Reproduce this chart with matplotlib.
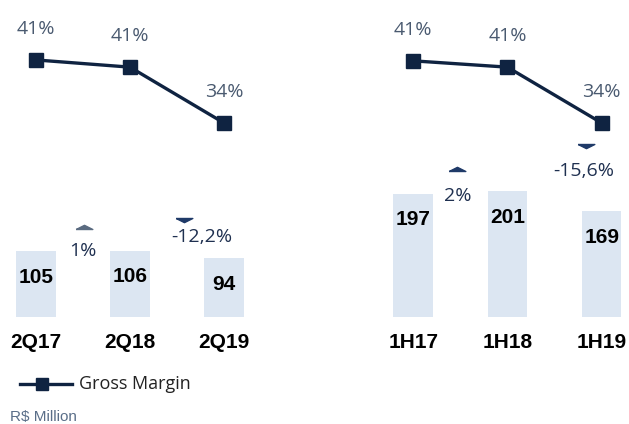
import matplotlib
matplotlib.use("Agg")
import matplotlib.pyplot as plt
from matplotlib.transforms import ScaledTranslation

# data
quarters = ["2Q17", "2Q18", "2Q19"]
quarter_profit = [105, 106, 94]
quarter_margin = [41.3, 40.5, 34.3]
quarter_margin_labels = ["41%", "41%", "34%"]
quarter_growth = ["1%", "-12,2%"]

halves = ["1H17", "1H18", "1H19"]
half_profit = [197, 201, 169]
half_margin = [41.2, 40.5, 34.3]
half_margin_labels = ["41%", "41%", "34%"]
half_growth = ["2%", "-15,6%"]

W, H = 629, 424
BAR = "#dce6f2"
LINE = "#0f2341"
PCT = "#4a5a70"
GROWTH = "#1f3050"
LIGHT_FONT = "Open Sans"
BOLD_FONT = "Liberation Sans"

# flat triangles like the slide arrows
TRI_UP = [(-1, 0), (1, 0), (0, 0.5), (-1, 0)]
TRI_DOWN = [(-1, 0), (1, 0), (0, -0.5), (-1, 0)]

fig = plt.figure(figsize=(W / 100, H / 100), dpi=100)


def panel(rect, xlim, cats, profit, margin, margin_labels, growth, growth_style):
    ax = fig.add_axes(rect)
    x = range(len(cats))
    ax.bar(x, profit, width=0.42, color=BAR, zorder=1)
    ax.set_xlim(*xlim)
    ax.set_ylim(0, 507)
    ax.axis("off")

    for i, v in enumerate(profit):
        ax.annotate(str(v), (i, v), xytext=(0, -26), textcoords="offset pixels",
                    ha="center", va="center", fontsize=15, fontweight="bold",
                    family=BOLD_FONT, color="black")
        ax.annotate(cats[i], (i, 0), xytext=(0, -26), textcoords="offset pixels",
                    ha="center", va="center", fontsize=15, fontweight="bold",
                    family=BOLD_FONT, color="black")

    # growth annotations between bars
    for k, txt in enumerate(growth):
        ref = max(profit[k], profit[k + 1])
        (tx, ty), (mx, my), mk, mc = growth_style[k]
        ax.annotate(txt, (k + 0.5, ref), xytext=(tx, ty), textcoords="offset pixels",
                    ha="center", va="center", fontsize=14, family=LIGHT_FONT,
                    color=GROWTH)
        ax.plot([k + 0.5], [ref], marker=mk, markersize=12, color=mc, linestyle="none",
                transform=ax.transData + ScaledTranslation(mx / 100, my / 100,
                                                           fig.dpi_scale_trans))

    ax2 = ax.twinx()
    ax2.set_ylim(12.74, 47.96)
    ax2.set_xlim(*xlim)
    ax2.axis("off")
    ax2.plot(x, margin, color=LINE, linewidth=2.4, marker="s", markersize=10,
             zorder=3)
    for i, (v, lab) in enumerate(zip(margin, margin_labels)):
        ax2.annotate(lab, (i, v), xytext=(0, 31), textcoords="offset pixels",
                     ha="center", va="center", fontsize=14, family=LIGHT_FONT,
                     color=PCT)
    return ax


bottom = 107 / H
height = 317 / H
panel([3 / W, bottom, 268 / W, height], (-0.35, 2.5), quarters, quarter_profit,
      quarter_margin, quarter_margin_labels, quarter_growth,
      [((0, 0), (1, 22), TRI_UP, "#5a6b80"), ((25, 14), (7, 33), TRI_DOWN, "#1f3a68")])
panel([366 / W, bottom, 263 / W, height], (-0.5, 2.29), halves, half_profit,
      half_margin, half_margin_labels, half_growth,
      [((-3, -5), (-3, 20), TRI_UP, "#1f3a68"), ((29, 20), (31, 47), TRI_DOWN, "#1f3a68")])

# legend
leg_ax = fig.add_axes([0, 0, 1, 1])
leg_ax.set_xlim(0, W)
leg_ax.set_ylim(H, 0)
leg_ax.axis("off")
leg_ax.plot([20, 72], [384, 384], color=LINE, linewidth=2.4)
leg_ax.plot([42], [384], color=LINE, marker="s", markersize=8)
leg_ax.text(79, 384, "Gross Margin", fontsize=13, family=LIGHT_FONT,
            color="#222222", va="center", ha="left")
leg_ax.text(10, 417, "R$ Million", fontsize=11, family=BOLD_FONT,
            color="#5a6e88", va="center", ha="left")

fig.savefig("out.png", dpi=100)
